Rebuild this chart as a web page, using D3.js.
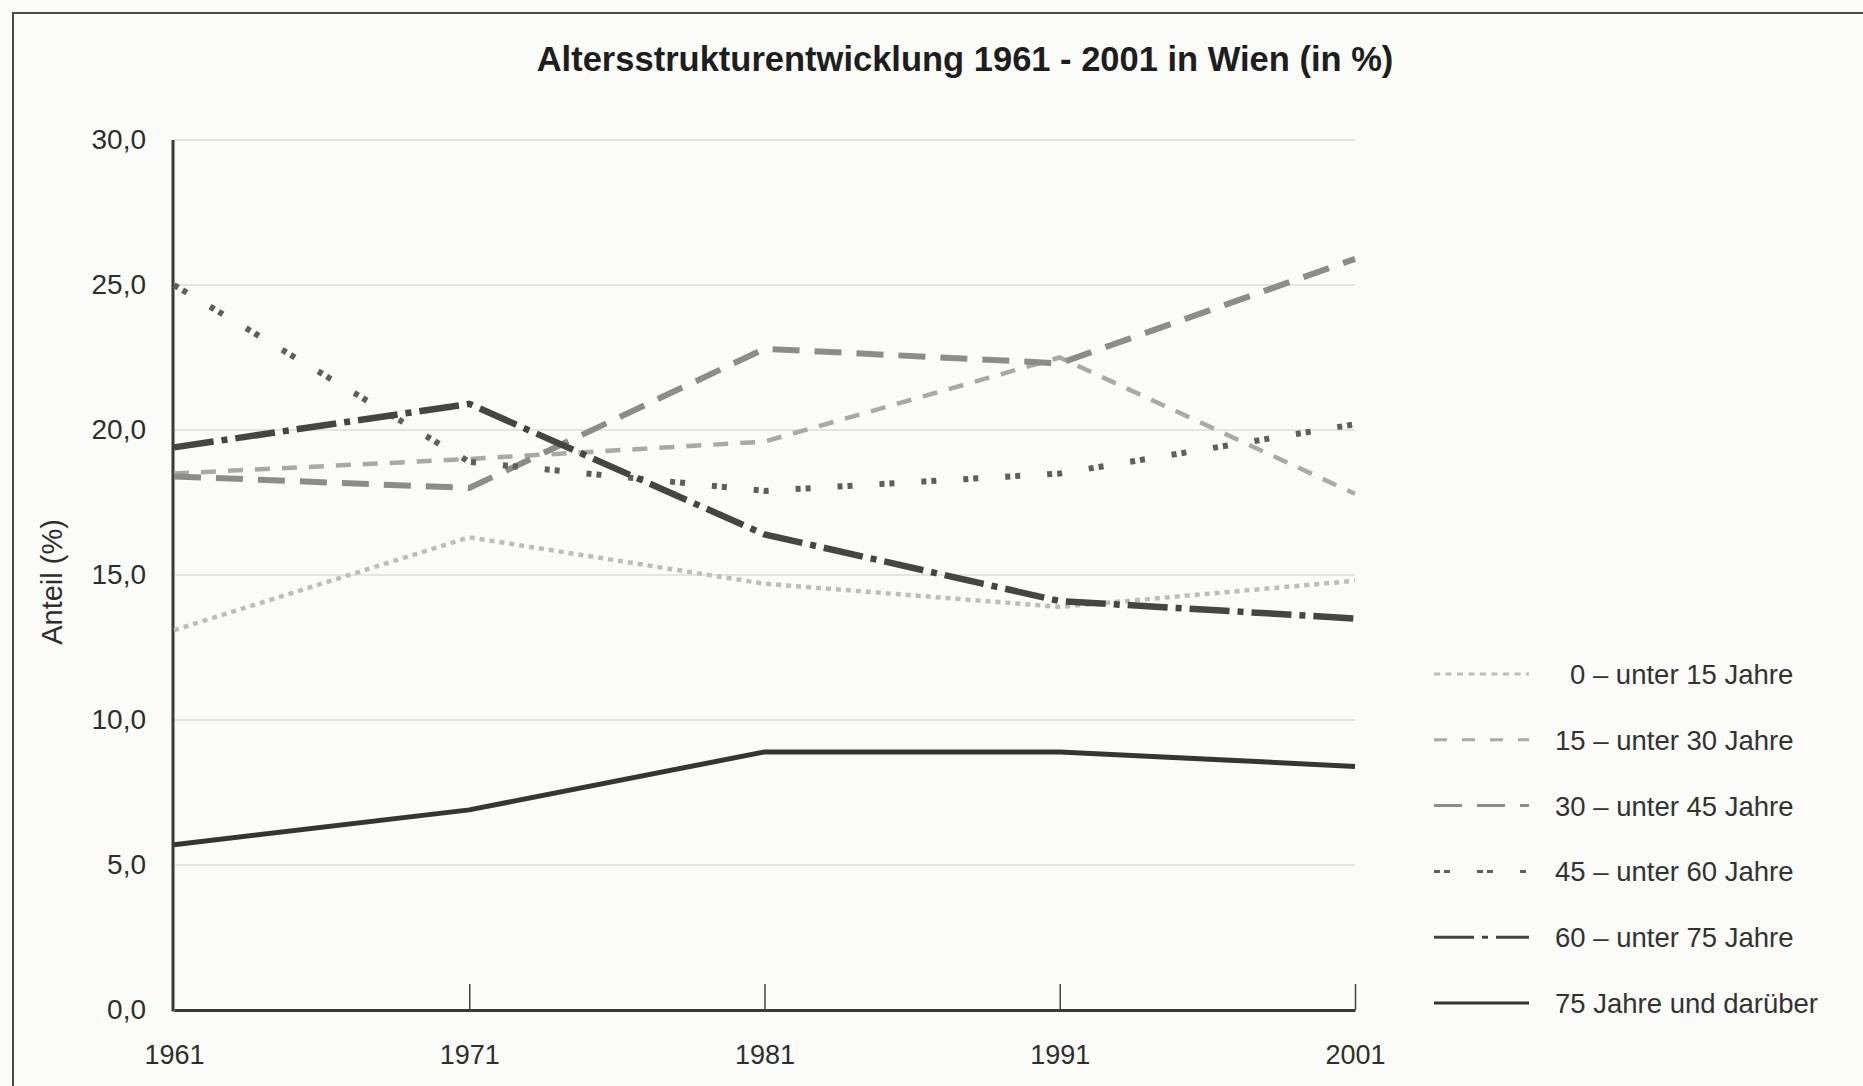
<!DOCTYPE html>
<html>
<head>
<meta charset="utf-8">
<script src="https://cdn.jsdelivr.net/npm/d3@7"></script>
<style>
  body { margin:0; background:#fbfbf8; }
  svg { display:block; font-family:"Liberation Sans", Arial, Helvetica, sans-serif; }
</style>
</head>
<body>
<div id="chart"></div>
<script>
var years = [1961, 1971, 1981, 1991, 2001];
var yTicks = [0, 5, 10, 15, 20, 25, 30];
var groups = ["0 – unter 15 Jahre", "15 – unter 30 Jahre", "30 – unter 45 Jahre",
              "45 – unter 60 Jahre", "60 – unter 75 Jahre", "75 Jahre und darüber"];
var g0_15  = [13.1, 16.3, 14.7, 13.9, 14.8];
var g15_30 = [18.5, 19.0, 19.6, 22.5, 17.8];
var g30_45 = [18.4, 18.0, 22.8, 22.3, 25.9];
var g45_60 = [25.0, 18.9, 17.9, 18.5, 20.2];
var g60_75 = [19.4, 20.9, 16.4, 14.1, 13.5];
var g75    = [5.7, 6.9, 8.9, 8.9, 8.4];
var series = [g0_15, g15_30, g30_45, g45_60, g60_75, g75];

var styles = [
  {color:"#bdbdbb", width:4.5, dash:"5,5",        legendDash:"6,5.5",     lw:3},
  {color:"#a9a9a7", width:4.5, dash:"15,12",      legendDash:"13,15",     lw:3},
  {color:"#8c8c8a", width:6,   dash:"27,15",      legendDash:"28,15",     lw:3},
  {color:"#5e5e5c", width:6,   dash:"5,5,5,27",   legendDash:"6,4,6,27",  lw:3},
  {color:"#454543", width:6.5, dash:"40,8,6,8",   legendDash:"40,8,6,8",  lw:3},
  {color:"#353533", width:5,   dash:null,         legendDash:null,        lw:3}
];

var W = 1863, H = 1086;
var svg = d3.select("#chart").append("svg")
            .attr("width", W)
            .attr("height", H);

svg.append("rect")
   .attr("x", 13).attr("y", 13)
   .attr("width", W).attr("height", H)
   .style("fill", "none")
   .style("stroke", "#4a4a48")
   .style("stroke-width", 2);

var x = d3.scaleLinear().domain([1961, 2001]).range([174, 1355]);
var y = d3.scaleLinear().domain([0, 30]).range([1010, 140]);

var fmt = function(v){ return d3.format(".1f")(v).replace(".", ","); };

svg.append("text")
   .attr("x", 965)
   .attr("y", 71)
   .attr("text-anchor", "middle")
   .style("font-size", "34.5px")
   .style("font-weight", "bold")
   .style("fill", "#1e1e1e")
   .text("Altersstrukturentwicklung 1961 - 2001 in Wien (in %)");

// gridlines
svg.selectAll(".grid")
   .data(yTicks.filter(function(d){ return d > 0; }))
   .enter().append("line")
   .attr("x1", x(1961)).attr("x2", x(2001))
   .attr("y1", function(d){ return y(d); })
   .attr("y2", function(d){ return y(d); })
   .style("stroke", "#dcdcda")
   .style("stroke-width", 1.5);

// y axis
var yAxis = svg.append("g")
   .attr("transform", "translate(" + (x(1961) - 1) + ",0)")
   .call(d3.axisLeft(y).tickValues(yTicks).tickFormat(fmt).tickSize(0).tickPadding(27));
yAxis.select(".domain").remove();
yAxis.selectAll("text")
     .style("font-size", "28px")
     .style("font-family", "Liberation Sans, Arial, sans-serif")
     .style("fill", "#2e2e2e");

svg.append("line")
   .attr("x1", x(1961) - 1).attr("x2", x(1961) - 1)
   .attr("y1", y(30)).attr("y2", y(0) + 1.5)
   .style("stroke", "#3a3a38")
   .style("stroke-width", 3);

// x axis, ticks pointing up
var xAxis = svg.append("g")
   .attr("transform", "translate(0," + y(0) + ")")
   .call(d3.axisTop(x).tickValues(years).tickFormat(d3.format("d")).tickSizeOuter(0).tickSizeInner(26));
xAxis.select(".domain")
     .style("stroke", "#3a3a38")
     .style("stroke-width", 3);
xAxis.selectAll(".tick line")
     .style("stroke", "#444")
     .style("stroke-width", 1.5)
     .style("display", function(d){ return d == 1961 ? "none" : null; });
xAxis.selectAll("text")
     .attr("y", 54)
     .style("font-size", "27px")
     .style("font-family", "Liberation Sans, Arial, sans-serif")
     .style("fill", "#2e2e2e");

svg.append("text")
   .attr("transform", "translate(62,582) rotate(-90)")
   .attr("text-anchor", "middle")
   .style("font-size", "29px")
   .style("fill", "#2e2e2e")
   .text("Anteil (%)");

var line = d3.line()
   .x(function(d, i){ return x(years[i]); })
   .y(function(d){ return y(d); });

svg.selectAll(".serie")
   .data(series)
   .enter().append("path")
   .attr("d", line)
   .style("fill", "none")
   .style("stroke", function(d, i){ return styles[i].color; })
   .style("stroke-width", function(d, i){ return styles[i].width; })
   .style("stroke-dasharray", function(d, i){ return styles[i].dash; });

// legend
var leg = svg.selectAll(".leg")
   .data(groups)
   .enter().append("g")
   .attr("transform", function(d, i){ return "translate(1434," + (674 + i * 65.8) + ")"; });

leg.append("line")
   .attr("x1", 0).attr("x2", 95)
   .attr("y1", 0).attr("y2", 0)
   .style("stroke", function(d, i){ return styles[i].color; })
   .style("stroke-width", function(d, i){ return styles[i].lw; })
   .style("stroke-dasharray", function(d, i){ return styles[i].legendDash; });

leg.append("text")
   .attr("x", function(d, i){ return i == 0 ? 136 : 121; })
   .attr("y", 0)
   .attr("dy", "0.36em")
   .style("font-size", "27.5px")
   .style("fill", "#333")
   .text(function(d){ return d; });
</script>
</body>
</html>
